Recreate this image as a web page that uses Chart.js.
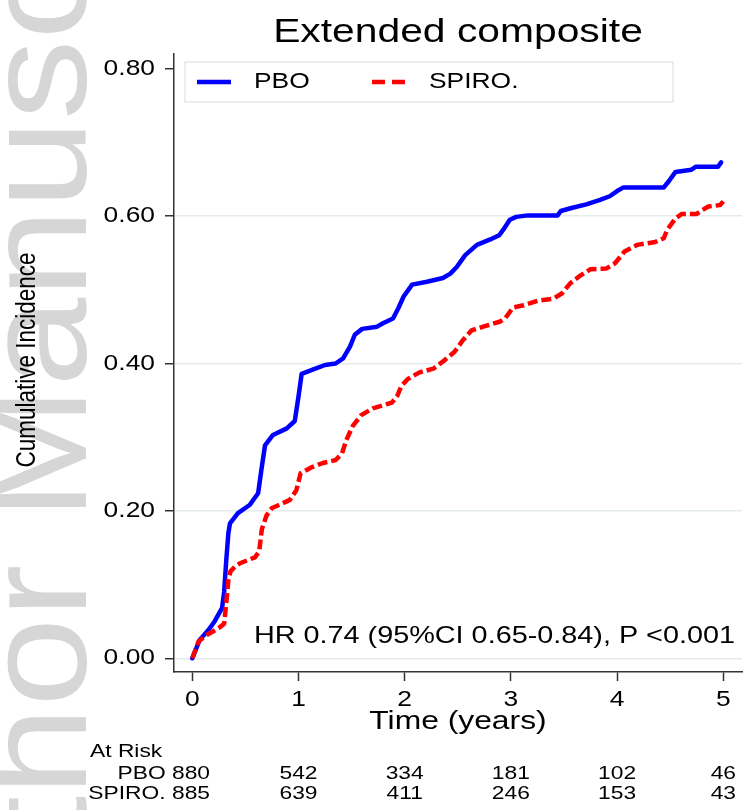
<!DOCTYPE html>
<html>
<head>
<meta charset="utf-8">
<script src="https://cdn.jsdelivr.net/npm/chart.js@4.4.1/dist/chart.umd.min.js"></script>
<style>
  html, body { margin: 0; padding: 0; background: #ffffff; }
  #wrap { width: 749px; height: 810px; }
</style>
</head>
<body>
<div id="wrap"><canvas id="c" width="749" height="810"></canvas></div>
<script>
// ---- data ----
const titleText = 'Extended composite';
const seriesLabels = ['PBO', 'SPIRO.'];

const pboTime = [0, 0.07, 0.15, 0.21, 0.28, 0.30, 0.32, 0.34, 0.355, 0.43, 0.54, 0.62, 0.65, 0.685, 0.76, 0.89, 0.965, 1.0, 1.03, 1.14, 1.25, 1.35, 1.42, 1.485, 1.53, 1.60, 1.74, 1.80, 1.89, 1.94, 1.99, 2.07, 2.21, 2.36, 2.43, 2.49, 2.57, 2.68, 2.80, 2.89, 2.93, 2.99, 3.05, 3.16, 3.44, 3.47, 3.57, 3.71, 3.84, 3.93, 4.0, 4.06, 4.44, 4.49, 4.55, 4.70, 4.74, 4.95, 4.98];
const pboInc  = [0, 0.025, 0.038, 0.050, 0.068, 0.090, 0.133, 0.170, 0.183, 0.197, 0.208, 0.224, 0.255, 0.289, 0.303, 0.312, 0.322, 0.355, 0.386, 0.392, 0.398, 0.400, 0.407, 0.423, 0.439, 0.447, 0.450, 0.455, 0.461, 0.475, 0.491, 0.507, 0.511, 0.516, 0.522, 0.531, 0.547, 0.561, 0.568, 0.574, 0.582, 0.595, 0.599, 0.601, 0.601, 0.607, 0.611, 0.616, 0.622, 0.627, 0.634, 0.639, 0.639, 0.648, 0.660, 0.663, 0.667, 0.667, 0.673];

const spiroTime = [0, 0.06, 0.14, 0.25, 0.30, 0.32, 0.34, 0.36, 0.40, 0.45, 0.59, 0.63, 0.655, 0.70, 0.75, 0.80, 0.92, 0.98, 1.02, 1.12, 1.23, 1.35, 1.41, 1.45, 1.51, 1.59, 1.70, 1.88, 1.93, 1.97, 2.03, 2.14, 2.27, 2.38, 2.47, 2.55, 2.63, 2.74, 2.90, 2.95, 3.02, 3.12, 3.25, 3.40, 3.48, 3.56, 3.65, 3.75, 3.90, 3.98, 4.07, 4.19, 4.36, 4.44, 4.47, 4.55, 4.61, 4.75, 4.80, 4.86, 4.97, 5.0];
const spiroInc  = [0, 0.023, 0.032, 0.041, 0.047, 0.075, 0.106, 0.118, 0.124, 0.129, 0.137, 0.145, 0.175, 0.194, 0.204, 0.207, 0.215, 0.228, 0.251, 0.259, 0.265, 0.269, 0.278, 0.296, 0.315, 0.330, 0.339, 0.347, 0.356, 0.370, 0.379, 0.388, 0.393, 0.405, 0.416, 0.432, 0.445, 0.450, 0.457, 0.462, 0.476, 0.479, 0.485, 0.488, 0.495, 0.509, 0.519, 0.528, 0.529, 0.536, 0.552, 0.561, 0.565, 0.570, 0.581, 0.597, 0.603, 0.603, 0.608, 0.613, 0.615, 0.620];

const xTicks = [0, 1, 2, 3, 4, 5];
const xTickLabels = ['0', '1', '2', '3', '4', '5'];
const yTicks = [0, 0.2, 0.4, 0.6, 0.8];
const yTickLabels = ['0.00', '0.20', '0.40', '0.60', '0.80'];

const riskTimes = [0, 1, 2, 3, 4, 5];
const riskPBO   = [880, 542, 334, 181, 102, 46];
const riskSPIRO = [885, 639, 411, 246, 153, 43];

const xAxisTitle = 'Time (years)';
const yAxisTitle = 'Cumulative Incidence';
const hrText = 'HR 0.74 (95%CI 0.65-0.84), P <0.001';
const riskHeader = 'At Risk';
const watermarkText = ['Author ', 'Manuscript'];

// ---- helpers ----
const FONT = '"Liberation Sans", Arial, Helvetica, sans-serif';
const SX = 1.2; // reference text is horizontally stretched
function sText(ctx, str, x, y, size, align, color) {
  ctx.save();
  ctx.font = size + 'px ' + FONT;
  ctx.fillStyle = color || '#000000';
  ctx.textAlign = align || 'left';
  ctx.textBaseline = 'middle';
  ctx.translate(x, y);
  ctx.scale(SX, 1);
  ctx.fillText(str, 0, 0);
  ctx.restore();
}

const decor = {
  id: 'decor',
  beforeDraw(chart) {
    const ctx = chart.ctx;
    ctx.save();
    ctx.fillStyle = '#ffffff';
    ctx.fillRect(0, 0, chart.width, chart.height);
    // watermark
    ctx.font = '160px ' + FONT;
    ctx.fillStyle = '#d6d6d6';
    ctx.textBaseline = 'alphabetic';
    ctx.translate(86, 520);
    ctx.rotate(-Math.PI / 2);
    ctx.scale(1, 0.9);
    ctx.textAlign = 'right';
    ctx.fillText(watermarkText[0], 0, 0);
    ctx.textAlign = 'left';
    ctx.fillText(watermarkText[1], 0, 0);
    ctx.restore();
  },
  afterDraw(chart) {
    const ctx = chart.ctx;
    const xs = chart.scales.x, ys = chart.scales.y;
    const area = chart.chartArea;
    // title
    sText(ctx, titleText, (area.left + area.right) / 2, 33, 34, 'center');
    // legend box
    ctx.save();
    ctx.fillStyle = '#ffffff';
    ctx.strokeStyle = '#e1e9ed';
    ctx.lineWidth = 1.5;
    ctx.fillRect(185, 62, 488, 40);
    ctx.strokeRect(185, 62, 488, 40);
    const ds = chart.data.datasets;
    ctx.lineWidth = 4.5;
    ctx.strokeStyle = ds[0].borderColor;
    ctx.beginPath(); ctx.moveTo(197, 82); ctx.lineTo(231, 82); ctx.stroke();
    ctx.strokeStyle = ds[1].borderColor;
    ctx.setLineDash([13, 7]);
    ctx.beginPath(); ctx.moveTo(372, 82); ctx.lineTo(405, 82); ctx.stroke();
    ctx.restore();
    sText(ctx, ds[0].label, 254, 82, 22, 'left');
    sText(ctx, ds[1].label, 429, 82, 22, 'left');
    // y tick labels
    yTicks.forEach((v, i) => sText(ctx, yTickLabels[i], 155, ys.getPixelForValue(v), 22, 'right'));
    // x tick labels
    xTicks.forEach((v, i) => sText(ctx, xTickLabels[i], xs.getPixelForValue(v), 700, 22, 'center'));
    // axis titles
    sText(ctx, xAxisTitle, (area.left + area.right) / 2, 722, 26.5, 'center');
    ctx.save();
    ctx.font = '22.5px ' + FONT;
    ctx.fillStyle = '#000000';
    ctx.textAlign = 'center';
    ctx.textBaseline = 'middle';
    ctx.translate(28, 360);
    ctx.rotate(-Math.PI / 2);
    ctx.scale(1, SX);
    ctx.fillText(yAxisTitle, 0, 0);
    ctx.restore();
    // HR annotation
    sText(ctx, hrText, 735, 636, 24, 'right');
    // at risk table
    sText(ctx, riskHeader, 90, 752, 19, 'left');
    riskTimes.forEach((t, i) => {
      if (i === 0) {
        sText(ctx, seriesLabels[0] + ' ' + riskPBO[i], 210, 774, 19, 'right');
        sText(ctx, seriesLabels[1] + ' ' + riskSPIRO[i], 210, 794, 19, 'right');
      } else {
        const px = xs.getPixelForValue(t);
        sText(ctx, String(riskPBO[i]), px, 774, 19, 'center');
        sText(ctx, String(riskSPIRO[i]), px, 794, 19, 'center');
      }
    });
  }
};

const toPts = (ts, vs) => ts.map((t, i) => ({ x: t, y: vs[i] }));

new Chart(document.getElementById('c'), {
  type: 'line',
  data: {
    datasets: [
      { label: seriesLabels[0], data: toPts(pboTime, pboInc), borderColor: '#0000ff', borderWidth: 4.5,
        pointRadius: 0, fill: false, tension: 0, order: 1, borderJoinStyle: 'round', borderCapStyle: 'round' },
      { label: seriesLabels[1], data: toPts(spiroTime, spiroInc), borderColor: '#ff0000', borderWidth: 4.5,
        borderDash: [10, 4], pointRadius: 0, fill: false, tension: 0, order: 0, borderJoinStyle: 'round' }
    ]
  },
  options: {
    responsive: false,
    animation: false,
    devicePixelRatio: 1,
    layout: { padding: { left: 0, right: 7, top: 54, bottom: 0 } },
    plugins: { legend: { display: false }, title: { display: false }, tooltip: { enabled: false } },
    scales: {
      x: {
        type: 'linear', min: -0.172, max: 5.176,
        afterBuildTicks: s => { s.ticks = xTicks.map(v => ({ value: v })); },
        ticks: { display: false },
        grid: { drawOnChartArea: false, drawTicks: true, tickLength: 9, tickColor: '#333333', tickWidth: 1.5 },
        border: { display: true, color: '#333333', width: 1.5 },
        afterFit: s => { s.height = 138; }
      },
      y: {
        type: 'linear', min: -0.0186, max: 0.820,
        afterBuildTicks: s => { s.ticks = yTicks.map(v => ({ value: v })); },
        ticks: { display: false },
        grid: {
          color: c => (c.tick && c.tick.value === 0.8) ? 'rgba(0,0,0,0)' : '#e3ebef',
          lineWidth: 1.5, drawTicks: true, tickLength: 9, tickColor: '#333333', tickWidth: 1.5
        },
        border: { display: true, color: '#333333', width: 1.5 },
        afterFit: s => { s.width = 174; }
      }
    }
  },
  plugins: [decor]
});
</script>
</body>
</html>
